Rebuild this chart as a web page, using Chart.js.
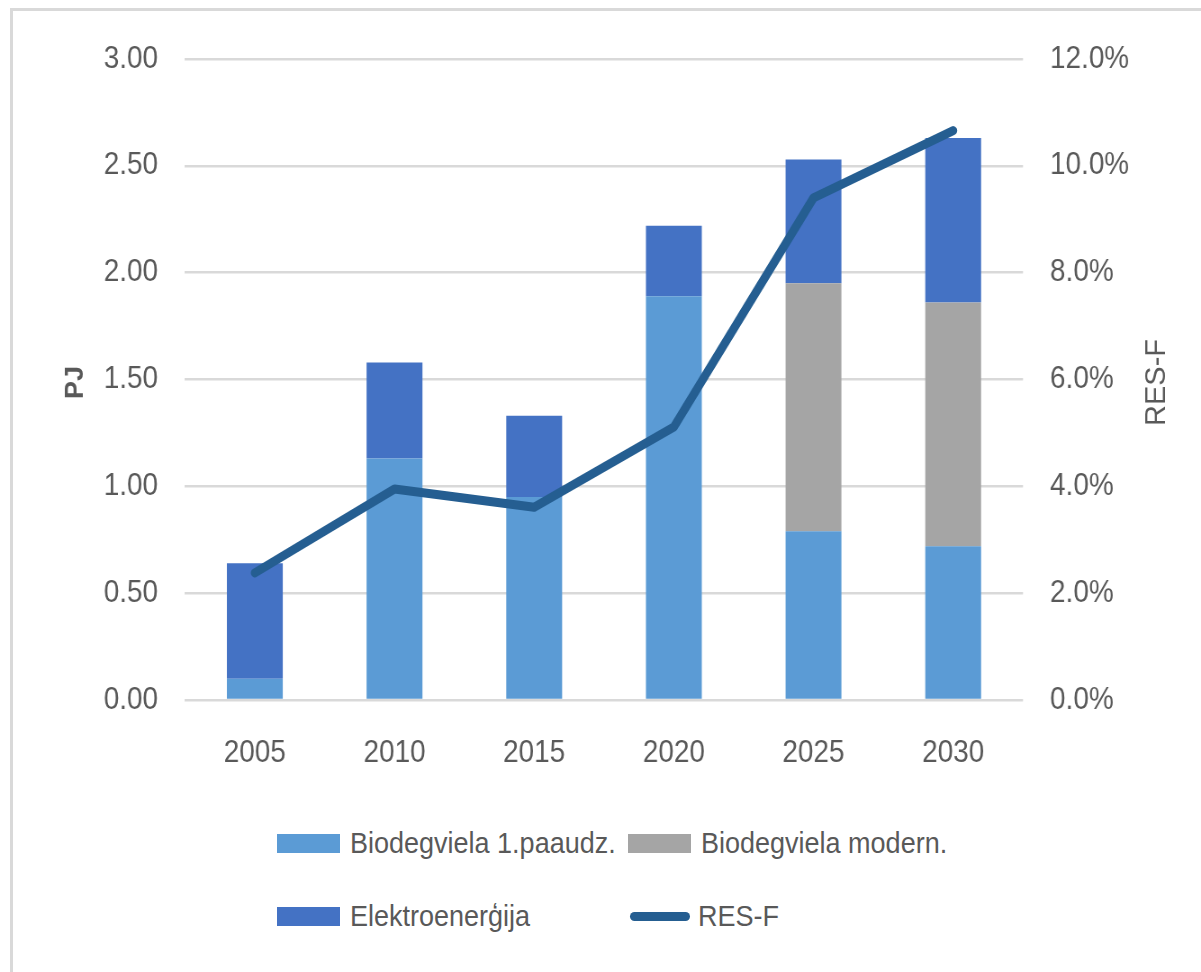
<!DOCTYPE html>
<html>
<head>
<meta charset="utf-8">
<script src="https://cdn.jsdelivr.net/npm/chart.js@4"></script>
<style>
  body { margin: 0; background: #fff; }
  #wrap { position: relative; width: 1201px; height: 972px; overflow: hidden; }
  #frame { position: absolute; left: 10px; top: 8px; right: -10px; bottom: -10px;
           border-left: 3px solid #d9d9d9; border-top: 3px solid #d9d9d9; }
  /* the reference text is narrower than any installed font, so squeeze the chart a bit */
  #squeeze { position: absolute; left: 0; top: 0; transform: scaleX(0.9003); transform-origin: 0 0; }
  .mark { position: absolute; }
  .txt { position: absolute; font-family: 'Liberation Sans', Arial, sans-serif; font-size: 30px;
         color: #595959; white-space: nowrap; line-height: 36px; transform: scaleX(0.9); transform-origin: 0 50%; }
</style>
</head>
<body>
<div id="wrap">
  <div id="frame"></div>
  <div id="squeeze"><canvas id="chart" width="1334" height="800"></canvas></div>
  <div id="legend"></div>
</div>
<script>
// values
const years = ['2005', '2010', '2015', '2020', '2025', '2030'];
const bioFirst = [0.10, 1.13, 0.95, 1.89, 0.79, 0.72];
const bioModern = [0, 0, 0, 0, 1.16, 1.14];
const electricity = [0.54, 0.45, 0.38, 0.33, 0.58, 0.77];
const resF = [2.38, 3.95, 3.61, 5.11, 9.40, 10.66];

const pjTicks = [0, 0.5, 1, 1.5, 2, 2.5, 3];
const resTicks = [0, 2, 4, 6, 8, 10, 12];

const k = 1201 / 1334;
const fontFamily = "'Liberation Sans', Arial, sans-serif";
const textColor = '#595959';

// axis titles drawn by hand so both read bottom to top and are not squeezed
const axisTitles = {
    id: 'axisTitles',
    afterDraw(chart) {
        const ctx = chart.ctx;
        const midY = (chart.chartArea.top + chart.chartArea.bottom) / 2 + 3;
        const draw = (text, screenX, font) => {
            ctx.save();
            ctx.translate(screenX / k, midY);
            ctx.scale(1 / k, 1);
            ctx.rotate(-Math.PI / 2);
            ctx.font = font;
            ctx.fillStyle = textColor;
            ctx.textAlign = 'center';
            ctx.textBaseline = 'middle';
            ctx.fillText(text, 0, 0);
            ctx.restore();
        };
        draw('PJ', 75, 'bold 27px ' + fontFamily);
        draw('RES-F', 1157, '29px ' + fontFamily);
    }
};

const chart = new Chart(document.getElementById('chart'), {
    type: 'bar',
    data: {
        labels: years,
        datasets: [
            { label: 'Biodegviela 1.paaudz.', data: bioFirst, backgroundColor: '#5b9bd5', yAxisID: 'y', order: 1 },
            { label: 'Biodegviela modern.', data: bioModern, backgroundColor: '#a5a5a5', yAxisID: 'y', order: 1 },
            { label: 'Elektroenerģija', data: electricity, backgroundColor: '#4472c4', yAxisID: 'y', order: 1 },
            {
                type: 'line', label: 'RES-F', data: resF, yAxisID: 'y1', order: 0,
                borderColor: '#255e91', borderWidth: 9, pointRadius: 0,
                borderCapStyle: 'round', borderJoinStyle: 'round', tension: 0
            }
        ]
    },
    options: {
        responsive: false,
        animation: false,
        datasets: { bar: { barPercentage: 0.4, categoryPercentage: 1 } },
        layout: { padding: { top: 59, left: 0, right: 0, bottom: 0 } },
        plugins: { legend: { display: false }, tooltip: { enabled: false } },
        scales: {
            x: {
                stacked: true,
                grid: { display: false },
                border: { display: false },
                ticks: { color: textColor, font: { family: fontFamily, size: 31 }, padding: 27 },
                afterFit(s) { s.height = 100; }
            },
            y: {
                stacked: true,
                position: 'left',
                min: 0, max: 3,
                afterBuildTicks(s) { s.ticks = pjTicks.map(v => ({ value: v })); },
                grid: { color: '#d9d9d9', lineWidth: 2.5, drawTicks: false },
                border: { display: false },
                ticks: {
                    color: textColor, font: { family: fontFamily, size: 31 }, padding: 30,
                    callback: v => v.toFixed(2)
                },
                afterFit(s) { s.width = 185 / k; }
            },
            y1: {
                position: 'right',
                min: 0, max: 12,
                afterBuildTicks(s) { s.ticks = resTicks.map(v => ({ value: v })); },
                grid: { display: false, drawTicks: false },
                border: { display: false },
                ticks: {
                    color: textColor, font: { family: fontFamily, size: 31 }, padding: 30,
                    callback: v => v.toFixed(1) + '%'
                },
                afterFit(s) { s.width = 1334 - 1023 / k; }
            }
        }
    },
    plugins: [axisTitles]
});

// legend in two columns, placed in page pixels
const legend = document.getElementById('legend');
const spots = [[277, 843], [628, 843], [277, 916], [628, 916]];
chart.data.datasets.forEach((ds, i) => {
    const [x, y] = spots[i];
    const mark = document.createElement('div');
    mark.className = 'mark';
    if (ds.type === 'line') {
        mark.style.cssText = `left:${x + 2}px;top:${y - 4}px;width:60px;height:9px;border-radius:5px;background:${ds.borderColor}`;
    } else {
        mark.style.cssText = `left:${x}px;top:${y - 9}px;width:63px;height:19px;background:${ds.backgroundColor}`;
    }
    const txt = document.createElement('div');
    txt.className = 'txt';
    txt.style.left = (x + (ds.type === 'line' ? 70 : 73)) + 'px';
    txt.style.top = (y - 18) + 'px';
    txt.textContent = ds.label;
    legend.appendChild(mark);
    legend.appendChild(txt);
});
</script>
</body>
</html>
